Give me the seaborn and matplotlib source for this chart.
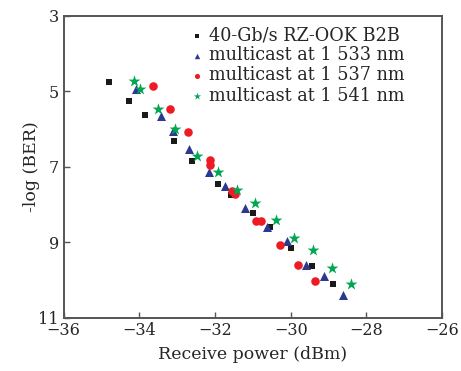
import numpy as np
import pandas as pd
import seaborn as sns
import matplotlib
matplotlib.use("Agg")
import matplotlib.pyplot as plt

# B2B reference
b2b_power = [-34.80, -34.27, -33.84, -33.08, -32.60, -31.91, -31.57, -30.99, -30.56, -29.98, -29.44, -28.88]
b2b_ber = [4.76, 5.25, 5.63, 6.32, 6.85, 7.46, 7.75, 8.23, 8.60, 9.15, 9.63, 10.11]

# multicast channels
p1533 = [-34.10, -33.42, -33.10, -32.68, -32.16, -31.73, -31.22, -30.62, -30.11, -29.59, -29.12, -28.61]
ber1533 = [4.94, 5.65, 6.05, 6.53, 7.14, 7.51, 8.09, 8.61, 8.97, 9.60, 9.91, 10.40]

p1537 = [-33.64, -33.20, -32.71, -32.14, -32.12, -31.54, -31.48, -30.91, -30.79, -30.28, -29.82, -29.35]
ber1537 = [4.86, 5.47, 6.08, 6.83, 6.95, 7.64, 7.72, 8.44, 8.44, 9.07, 9.61, 10.04]

p1541 = [-34.15, -33.98, -33.50, -33.05, -32.48, -31.92, -31.43, -30.95, -30.38, -29.90, -29.40, -28.92, -28.41]
ber1541 = [4.72, 4.95, 5.46, 6.01, 6.71, 7.14, 7.61, 7.97, 8.41, 8.88, 9.21, 9.69, 10.10]

labels = ["40-Gb/s RZ-OOK B2B", "multicast at 1 533 nm",
          "multicast at 1 537 nm", "multicast at 1 541 nm"]

xticks = [-36, -34, -32, -30, -28, -26]
yticks = [3, 5, 7, 9, 11]

series = [
    (b2b_power, b2b_ber, labels[0], "#1a1a1a", "s", 24),
    (p1533, ber1533, labels[1], "#2b3990", "^", 42),
    (p1537, ber1537, labels[2], "#ed1c24", "o", 38),
    (p1541, ber1541, labels[3], "#00a651", "*", 80),
]

sns.set_style("ticks")
plt.rcParams['font.family'] = ['DejaVu Serif']
plt.rcParams['mathtext.fontset'] = 'dejavuserif'

fig = plt.figure(figsize=(4.61, 3.71), dpi=100)
ax = fig.add_axes([0.138, 0.144, 0.821, 0.813])

for x, y, lab, col, mk, s in series:
    df = pd.DataFrame({'power': x, 'ber': y})
    sns.scatterplot(data=df, x='power', y='ber', ax=ax, color=col, marker=mk,
                    s=s, linewidth=0, label=lab)

ax.set_xlim(-36, -26)
ax.set_ylim(11, 3)
ax.set_xticks(xticks)
ax.set_yticks(yticks)
ax.set_xlabel("Receive power (dBm)", fontsize=12.5, labelpad=5)
ax.set_ylabel("-log (BER)", fontsize=12.5, labelpad=-1)
ax.tick_params(direction='in', length=4, width=1, color='#555555',
               labelsize=11.5, top=False, right=False)
for sp in ax.spines.values():
    sp.set_color('#555555')
    sp.set_linewidth(1.4)

ax.legend(loc='upper left', bbox_to_anchor=(0.329, 0.966), frameon=False,
          fontsize=12.7, markerscale=0.6, handletextpad=0.2, labelspacing=0.12,
          borderaxespad=0, borderpad=0, handlelength=1.0)

fig.savefig("out.png", dpi=100)
